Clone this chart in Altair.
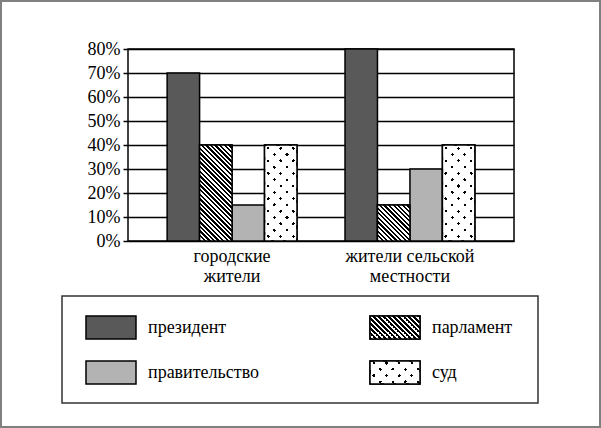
import math
import altair as alt
import pandas as pd

# ---------------- data ----------------
groups = ["городские\nжители", "жители сельской\nместности"]
series = ["президент", "парламент", "правительство", "суд"]
urban = [70, 40, 15, 40]
rural = [80, 15, 30, 40]
y_ticks = [0, 10, 20, 30, 40, 50, 60, 70, 80]
series_colors = ["#595959", "#ffffff", "#b3b3b3", "#ffffff"]
legend_cols = [0, 1, 0, 1]
legend_rows = [0, 0, 1, 1]

# ---------------- layout / style ----------------
W, H = 386, 192
Y_MAX = 80
PAD_IN, PAD_OUT = 0.27, 0.22
STEP = W / (len(groups) - PAD_IN + 2 * PAD_OUT)
BAR_W = STEP * (1 - PAD_IN) / len(series)
SERIF = "Liberation Serif"
FS = 18
CLEAR = "rgba(0,0,0,0)"


def stripes(w, h, kind, period, on, on_color, off_color, phase=0.0):
    """Hard-stop linear gradient giving 45-degree stripes in a w x h box.
    kind 'back'  -> '\\' stripes (s = x - y + h)
    kind 'fwd'   -> '/'  stripes (s = x + y)"""
    total = w + h
    k = total / (w * w + h * h)
    if kind == "back":
        x1, y1, x2, y2 = 0, 1, k * w, 1 - k * h
    else:
        x1, y1, x2, y2 = 0, 0, k * w, k * h
    stops = []
    pos = (phase % period) - period
    while pos < total:
        for s0, s1, col in ((pos, pos + on, on_color), (pos + on, pos + period, off_color)):
            a, b = max(s0, 0.0), min(s1, total)
            if b > a:
                stops += [{"offset": a / total, "color": col},
                          {"offset": b / total, "color": col}]
        pos += period
    return {"gradient": "linear", "stops": stops,
            "x1": x1, "y1": y1, "x2": x2, "y2": y2}


def hatch(w, h, period=4.6):
    return stripes(w, h, "back", period, period / 2, "black", "white")


def dot_layers(w, h, period=12.6, size=3.2, x0=3.5, y0=3.2):
    """Two stacked gradients whose overlap leaves a staggered dot lattice."""
    black_fwd = stripes(w, h, "fwd", period, size, "black", CLEAR,
                        phase=(x0 + y0) - size / 2)
    white_back = stripes(w, h, "back", period, period - size, "white", CLEAR,
                         phase=(x0 - y0 + h) + size / 2)
    return black_fwd, white_back


df = pd.DataFrame({
    "group": [g for g in groups for _ in series],
    "series": series * 2,
    "value": urban + rural,
})

x_enc = alt.X(
    "group:N", sort=groups,
    scale=alt.Scale(paddingInner=PAD_IN, paddingOuter=PAD_OUT),
    axis=alt.Axis(title=None, labelExpr="split(datum.label, '\\n')", labelAngle=0,
                  ticks=False, domain=False, labelFont=SERIF, labelFontSize=FS,
                  labelColor="black", labelPadding=6, labelLineHeight=20,
                  labelOverlap=False, labelLimit=300),
)
xo_enc = alt.XOffset("series:N", sort=series,
                     scale=alt.Scale(paddingInner=0, paddingOuter=0))
y_enc = alt.Y(
    "value:Q", scale=alt.Scale(domain=[0, Y_MAX], nice=False),
    axis=alt.Axis(title=None, values=y_ticks, labelExpr="datum.value + '%'",
                  grid=True, gridColor="black", gridWidth=1.5, gridOpacity=1,
                  ticks=True, tickSize=5, tickColor="black", tickWidth=1.5,
                  domain=False, labelFont=SERIF, labelFontSize=FS,
                  labelColor="black", labelPadding=3),
)
fill_enc = alt.Fill("series:N", scale=alt.Scale(domain=series, range=series_colors),
                    legend=None)

base = alt.Chart(df)

solid = base.mark_bar(stroke="black", strokeWidth=1.5).encode(
    x=x_enc, xOffset=xo_enc, y=y_enc, fill=fill_enc)

pattern_layers = []
for g, vals in zip(groups, [urban, rural]):
    sel_parl = (alt.datum.series == series[1]) & (alt.datum.group == g)
    sel_court = (alt.datum.series == series[3]) & (alt.datum.group == g)
    hp = vals[1] * H / Y_MAX
    pattern_layers.append(
        base.transform_filter(sel_parl).mark_bar(
            fill=hatch(BAR_W, hp), stroke="black", strokeWidth=1.5
        ).encode(x=x_enc, xOffset=xo_enc, y=y_enc)
    )
    hc = vals[3] * H / Y_MAX
    g1, g2 = dot_layers(BAR_W, hc)
    for grad in (g1, g2):
        pattern_layers.append(
            base.transform_filter(sel_court).mark_bar(fill=grad, strokeWidth=0)
            .encode(x=x_enc, xOffset=xo_enc, y=y_enc)
        )
    pattern_layers.append(
        base.transform_filter(sel_court).mark_bar(
            fill="transparent", stroke="black", strokeWidth=1.5
        ).encode(x=x_enc, xOffset=xo_enc, y=y_enc)
    )

bars_group = alt.layer(solid, *pattern_layers)

# ---------------- legend ----------------
leg_df = pd.DataFrame({"series": series, "col": legend_cols, "row": legend_rows})
one = pd.DataFrame({"a": [0]})

lx = alt.X("col:Q", scale=alt.Scale(domain=[0, 1], range=[-17, 267], nice=False, zero=False), axis=None)
ly = alt.Y("row:Q", scale=alt.Scale(domain=[0, 1], range=[278.5, 323.5], nice=False, zero=False), axis=None)
SW_W, SW_H = 50, 23
RECT_PATH = "M-1,-0.46H1V0.46H-1Z"
SW_SIZE = SW_W * SW_W

frame = alt.Chart(one).mark_rect(fill="transparent", stroke="#808080", strokeWidth=2).encode(
    x=alt.value(-127), x2=alt.value(472), y=alt.value(-48), y2=alt.value(378))
box = alt.Chart(one).mark_rect(fill="transparent", stroke="#333333", strokeWidth=1.5).encode(
    x=alt.value(-66), x2=alt.value(410), y=alt.value(247), y2=alt.value(354))

leg_base = alt.Chart(leg_df)
swatch = leg_base.mark_point(shape=RECT_PATH, size=SW_SIZE, filled=True, opacity=1,
                             stroke="black", strokeWidth=1.5).encode(
    x=lx, y=ly, fill=fill_enc)
swatch_hatch = leg_base.transform_filter(alt.datum.series == series[1]).mark_point(
    shape=RECT_PATH, size=SW_SIZE, filled=True, opacity=1, fill=hatch(SW_W, SW_H, 5.0),
    stroke="black", strokeWidth=1.5).encode(x=lx, y=ly)
sd1, sd2 = dot_layers(SW_W, SW_H, period=12.6, size=3.2, x0=4.0, y0=2.0)
swatch_dot_layers = [
    leg_base.transform_filter(alt.datum.series == series[3]).mark_point(
        shape=RECT_PATH, size=SW_SIZE, filled=True, opacity=1, fill=grad,
        strokeWidth=0).encode(x=lx, y=ly)
    for grad in (sd1, sd2)
]
swatch_outline = leg_base.transform_filter(alt.datum.series == series[3]).mark_point(
    shape=RECT_PATH, size=SW_SIZE, filled=False, opacity=1,
    stroke="black", strokeWidth=1.5).encode(x=lx, y=ly)
labels = leg_base.mark_text(align="left", baseline="middle", dx=37, font=SERIF,
                            fontSize=FS, color="black").encode(
    x=lx, y=ly, text="series:N")

legend_group = alt.layer(frame, box, swatch, swatch_hatch, *swatch_dot_layers,
                         swatch_outline, labels)

chart = alt.layer(bars_group, legend_group).resolve_scale(
    x="independent", y="independent"
).properties(
    width=W, height=H, padding=0, background="white",
    autosize=alt.AutoSizeParams(type="pad"),
).configure_view(stroke="black", strokeWidth=1.5)

chart.save("out.html", embed_options={"renderer": "svg", "actions": False})
